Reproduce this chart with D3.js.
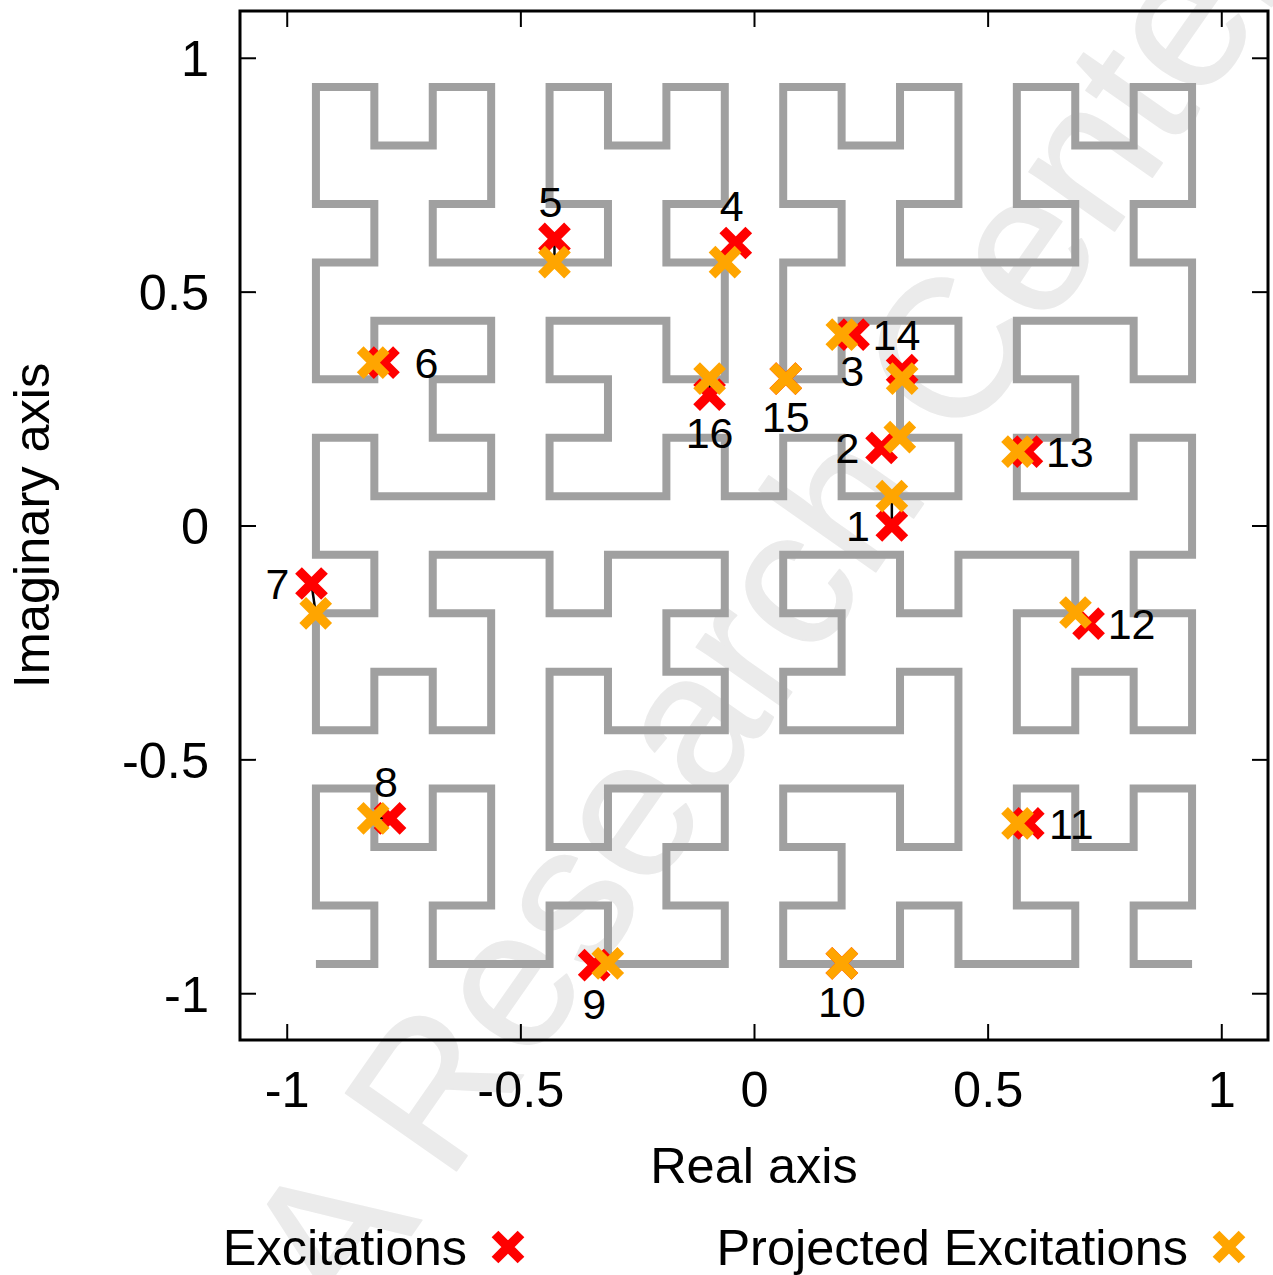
<!DOCTYPE html>
<html>
<head>
<meta charset="utf-8">
<script src="https://cdn.jsdelivr.net/npm/d3@7"></script>
<style>
  html, body { margin: 0; padding: 0; background: #ffffff; }
  svg { display: block; }
</style>
</head>
<body>
<script>
// ---------------------------------------------------------------------------
// Data
// ---------------------------------------------------------------------------

// Space-filling contour: vertices as [column, row] on a 16 x 16 lattice
// (column/row 0 is the lower-left cell, 15 the upper-right one).
const curveVertices = [
  // lower-left quadrant
  [0,0],[1,0],[1,1],[0,1],[0,3],[1,3],[1,2],[2,2],[2,3],[3,3],[3,1],[2,1],[2,0],
  [4,0],[4,1],[5,1],[5,0],[7,0],[7,1],[6,1],[6,2],[7,2],[7,3],[5,3],[5,2],[4,2],
  [4,5],[5,5],[5,4],[7,4],[7,5],[6,5],[6,6],[7,6],[7,7],[5,7],[5,6],[4,6],[4,7],
  [2,7],[2,6],[3,6],[3,4],[2,4],[2,5],[1,5],[1,4],[0,4],[0,6],[1,6],[1,7],[0,7],
  // upper-left quadrant
  [0,9],[1,9],[1,8],[3,8],[3,9],[2,9],[2,10],[3,10],[3,11],[1,11],[1,10],[0,10],
  [0,12],[1,12],[1,13],[0,13],[0,15],[1,15],[1,14],[2,14],[2,15],[3,15],[3,13],
  [2,13],[2,12],[5,12],[5,13],[4,13],[4,15],[5,15],[5,14],[6,14],[6,15],[7,15],
  [7,13],[6,13],[6,12],[7,12],[7,10],[6,10],[6,11],[4,11],[4,10],[5,10],[5,9],
  [4,9],[4,8],[6,8],[6,9],[7,9],[7,8],
  // upper-right quadrant
  [8,8],[8,9],[9,9],[9,8],[11,8],[11,9],[10,9],[10,10],[11,10],[11,11],[9,11],
  [9,10],[8,10],[8,12],[9,12],[9,13],[8,13],[8,15],[9,15],[9,14],[10,14],[10,15],
  [11,15],[11,13],[10,13],[10,12],[13,12],[13,13],[12,13],[12,15],[13,15],[13,14],
  [14,14],[14,15],[15,15],[15,13],[14,13],[14,12],[15,12],[15,10],[14,10],[14,11],
  [12,11],[12,10],[13,10],[13,9],[12,9],[12,8],[14,8],[14,9],[15,9],
  // lower-right quadrant
  [15,7],[14,7],[14,6],[15,6],[15,4],[14,4],[14,5],[13,5],[13,4],[12,4],[12,6],
  [13,6],[13,7],[11,7],[11,6],[10,6],[10,7],[8,7],[8,6],[9,6],[9,5],[8,5],[8,4],
  [10,4],[10,5],[11,5],[11,2],[10,2],[10,3],[8,3],[8,2],[9,2],[9,1],[8,1],[8,0],
  [10,0],[10,1],[11,1],[11,0],[13,0],[13,1],[12,1],[12,3],[13,3],[13,2],[14,2],
  [14,3],[15,3],[15,1],[14,1],[14,0],[15,0]
];

// Excitations (complex values) and their projections onto the contour
const excitationIds = [1, 2, 3, 4, 5, 6, 7, 8, 9, 10, 11, 12, 13, 14, 15, 16];
const excitationRe  = [0.295, 0.273, 0.317, -0.039, -0.427, -0.793, -0.947, -0.779,
                       -0.342, 0.188, 0.587, 0.716, 0.584, 0.213, 0.068, -0.095];
const excitationIm  = [0.000, 0.166, 0.332, 0.604, 0.613, 0.348, -0.124, -0.626,
                       -0.940, -0.936, -0.637, -0.210, 0.158, 0.408, 0.314, 0.280];
const projectedRe   = [0.295, 0.312, 0.317, -0.062, -0.427, -0.815, -0.938, -0.815,
                       -0.313, 0.188, 0.564, 0.688, 0.564, 0.188, 0.068, -0.095];
const projectedIm   = [0.063, 0.189, 0.314, 0.563, 0.563, 0.348, -0.188, -0.626,
                       -0.936, -0.936, -0.637, -0.186, 0.158, 0.408, 0.314, 0.314];
// Which side of its excitation each number is written on
const labelSide = ["left", "left", "far-left", "above", "above", "right", "left", "above",
                   "below", "below", "right", "right", "right", "right", "below", "below"];

const xTicks = [-1, -0.5, 0, 0.5, 1];
const yTicks = [-1, -0.5, 0, 0.5, 1];
const xTitle = "Real axis";
const yTitle = "Imaginary axis";
const legendNames = ["Excitations", "Projected Excitations"];
const watermarkText = "A Research Center";

// ---------------------------------------------------------------------------
// Layout
// ---------------------------------------------------------------------------
const W = 1273, H = 1275;
const FONT = '"Liberation Sans", Arial, Helvetica, sans-serif';
const FS = 50.5;        // axis / legend font size
const LABEL_FS = 43;    // point-number font size
const RED = "#ff0000", ORANGE = "#ffa500", CURVE = "#a0a0a0";

const svg = d3.select("body").append("svg")
  .attr("width", W).attr("height", H)
  .attr("viewBox", `0 0 ${W} ${H}`);

const x = d3.scaleLinear().domain([-1.1, 1.1]).range([240, 1268]);
const y = d3.scaleLinear().domain([-1.1, 1.1]).range([1040, 11]);

// lattice index -> coordinate (cell centres at odd sixteenths)
const lattice = k => (2 * k - 15) / 16;

// ---------------------------------------------------------------------------
// Watermark, behind everything
// ---------------------------------------------------------------------------
(function drawWatermark() {
  const size = 197, angle = -55;
  const wm = svg.append("text")
    .text(watermarkText)
    .attr("font-family", FONT)
    .attr("font-size", size)
    .attr("fill", "#ebebeb")
    .attr("stroke", "#ebebeb")
    .attr("stroke-width", 1.5)
    .attr("stroke-linejoin", "round");
  const node = wm.node();
  const rIdx = watermarkText.indexOf("R");
  const before = node.getSubStringLength(0, rIdx);
  const rw = node.getSubStringLength(rIdx, 1);
  // local centre of the "R", rotated, then moved onto its place
  const u = before + rw / 2, v = -0.36 * size;
  const t = angle * Math.PI / 180;
  const rx = u * Math.cos(t) - v * Math.sin(t);
  const ry = u * Math.sin(t) + v * Math.cos(t);
  const target = [430, 1085];
  wm.attr("transform", `translate(${target[0] - rx},${target[1] - ry}) rotate(${angle})`);
})();

// ---------------------------------------------------------------------------
// Contour
// ---------------------------------------------------------------------------
const line = d3.line()
  .x(d => x(lattice(d[0])))
  .y(d => y(lattice(d[1])));

svg.append("path")
  .attr("d", line(curveVertices))
  .attr("fill", "none")
  .attr("stroke", CURVE)
  .attr("stroke-width", 8)
  .attr("stroke-linejoin", "miter")
  .attr("stroke-linecap", "butt");

// ---------------------------------------------------------------------------
// Excitations, projections and the links between them
// ---------------------------------------------------------------------------
const points = excitationIds.map((id, i) => ({
  id,
  re: excitationRe[i], im: excitationIm[i],
  pre: projectedRe[i], pim: projectedIm[i],
  side: labelSide[i]
}));

svg.append("g").selectAll("line").data(points).join("line")
  .attr("x1", d => x(d.re)).attr("y1", d => y(d.im))
  .attr("x2", d => x(d.pre)).attr("y2", d => y(d.pim))
  .attr("stroke", "#000").attr("stroke-width", 2.5);

const ARM = 13;
const crossPath = `M${-ARM},${-ARM}L${ARM},${ARM}M${-ARM},${ARM}L${ARM},${-ARM}`;

function crosses(g, data, cx, cy, color) {
  g.selectAll("path").data(data).join("path")
    .attr("d", crossPath)
    .attr("transform", d => `translate(${cx(d)},${cy(d)})`)
    .attr("fill", "none")
    .attr("stroke", color)
    .attr("stroke-width", 9.5)
    .attr("stroke-linecap", "butt");
}
crosses(svg.append("g"), points, d => x(d.re), d => y(d.im), RED);
crosses(svg.append("g"), points, d => x(d.pre), d => y(d.pim), ORANGE);

// point numbers
const sideOffset = {
  "left": [-34, 0], "far-left": [-50, 0], "right": [43, 0],
  "above": [-4, -37], "below": [0, 38]
};
svg.append("g").selectAll("text").data(points).join("text")
  .attr("x", d => x(d.re) + sideOffset[d.side][0])
  .attr("y", d => y(d.im) + sideOffset[d.side][1] + 0.358 * LABEL_FS)
  .attr("text-anchor", "middle")
  .attr("font-family", FONT)
  .attr("font-size", LABEL_FS)
  .attr("fill", "#000")
  .text(d => d.id);

// ---------------------------------------------------------------------------
// Axes and frame
// ---------------------------------------------------------------------------
const fmt = d => String(d);

function styleAxis(g) {
  g.select(".domain").remove();
  g.selectAll(".tick line").attr("stroke", "#000").attr("stroke-width", 2);
  g.selectAll(".tick text")
    .attr("font-family", FONT).attr("font-size", FS).attr("fill", "#000");
}

svg.append("g").attr("transform", "translate(0,1040)")
  .call(d3.axisBottom(x).tickValues(xTicks).tickFormat(fmt).tickSize(-16).tickPadding(31.5))
  .call(styleAxis)
  .attr("font-family", null).attr("font-size", null);

svg.append("g").attr("transform", "translate(240,0)")
  .call(d3.axisLeft(y).tickValues(yTicks).tickFormat(fmt).tickSize(-16).tickPadding(31))
  .call(styleAxis)
  .call(g => g.selectAll(".tick text").attr("dy", "0.36em"))
  .attr("font-family", null).attr("font-size", null);

svg.append("g").attr("transform", "translate(0,11)")
  .call(d3.axisTop(x).tickValues(xTicks).tickFormat("").tickSize(-16))
  .call(styleAxis);

svg.append("g").attr("transform", "translate(1268,0)")
  .call(d3.axisRight(y).tickValues(yTicks).tickFormat("").tickSize(-16))
  .call(styleAxis);

svg.append("rect")
  .attr("x", x(-1.1)).attr("y", y(1.1))
  .attr("width", x(1.1) - x(-1.1)).attr("height", y(-1.1) - y(1.1))
  .attr("fill", "none").attr("stroke", "#000").attr("stroke-width", 3);

// axis titles
svg.append("text")
  .attr("x", x(0)).attr("y", 1183)
  .attr("text-anchor", "middle")
  .attr("font-family", FONT).attr("font-size", FS).attr("fill", "#000")
  .text(xTitle);

svg.append("text")
  .attr("transform", `translate(49,${y(0)}) rotate(-90)`)
  .attr("text-anchor", "middle")
  .attr("font-family", FONT).attr("font-size", FS).attr("fill", "#000")
  .text(yTitle);

// ---------------------------------------------------------------------------
// Legend
// ---------------------------------------------------------------------------
const legendItems = [
  { name: legendNames[0], color: RED,    textEnd: 467,  mark: 508 },
  { name: legendNames[1], color: ORANGE, textEnd: 1188, mark: 1229 }
];
const lg = svg.append("g");
legendItems.forEach(item => {
  lg.append("text")
    .attr("x", item.textEnd).attr("y", 1265)
    .attr("text-anchor", "end")
    .attr("font-family", FONT).attr("font-size", FS).attr("fill", "#000")
    .text(item.name);
  lg.append("path")
    .attr("d", crossPath)
    .attr("transform", `translate(${item.mark},1247)`)
    .attr("fill", "none")
    .attr("stroke", item.color)
    .attr("stroke-width", 9.5)
    .attr("stroke-linecap", "butt");
});
</script>
</body>
</html>
